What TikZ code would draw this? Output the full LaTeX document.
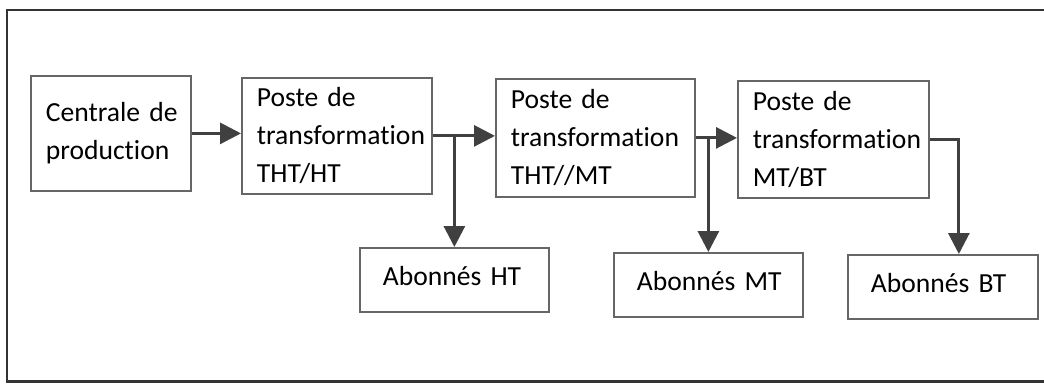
\documentclass[tikz,border=0pt]{standalone}
\usepackage{fontspec}
\setmainfont{Carlito}[Ligatures=CommonOff]
\usetikzlibrary{arrows.meta}
\hyphenpenalty=10000

\begin{document}
\begin{tikzpicture}[
    boite/.style={draw=black!60,line width=0.5pt,anchor=north west,align=left,
        inner xsep=0.15cm,inner ysep=0pt,
        font=\fontsize{7.85}{10.8}\selectfont},
    abonne/.style={boite,inner xsep=0.23cm,text width=1.43cm,minimum height=0.64cm,text depth=0.08cm},
    fleche/.style={draw=black!75,line width=0.85pt,-{Triangle[length=0.21cm,width=0.21cm]}}
]
                    \useasboundingbox (0,0) rectangle (10.44,3.83);
                    \draw[line width=0.6pt,black!80] (10.44,3.73) -- (0.07,3.73) -- (0.07,0.015) -- (10.44,0.015);

                    \node[boite,text width=1.30cm,minimum height=1.15cm] (centrale) at (0.30,3.08) {Centrale~de\\production};
                    \node[boite,text width=1.60cm,minimum height=1.16cm] (posteHT) at (2.41,3.06) {Poste~de\\transformation\\THT/HT};
                    \node[boite,text width=1.69cm,minimum height=1.18cm] (posteMT) at (4.95,3.05) {Poste~de\\transformation\\THT//MT};
                    \node[boite,text width=1.61cm,minimum height=1.17cm] (posteBT) at (7.37,3.03) {Poste~de\\transformation\\MT/BT};

                    \node[abonne] (abHT) at (3.59,1.36) {Abonnés~HT};
                    \node[abonne] (abMT) at (6.13,1.31) {Abonnés~MT};
                    \node[abonne,text width=1.44cm] (abBT) at (8.47,1.29) {Abonnés~BT};

                    \draw[fleche] (centrale.east) -- (centrale.east -| posteHT.west);
                    \draw[fleche] (posteHT.east) -- (posteHT.east -| posteMT.west);
                    \draw[fleche] (posteHT.east -| abHT.north) -- (abHT.north);
                    \draw[fleche] (posteMT.east) -- (posteMT.east -| posteBT.west);
                    \draw[fleche] (posteMT.east -| abMT.north) -- (abMT.north);
                    \draw[fleche] (posteBT.east) -| ([xshift=0.16cm]abBT.north);
                \end{tikzpicture}
\end{document}
